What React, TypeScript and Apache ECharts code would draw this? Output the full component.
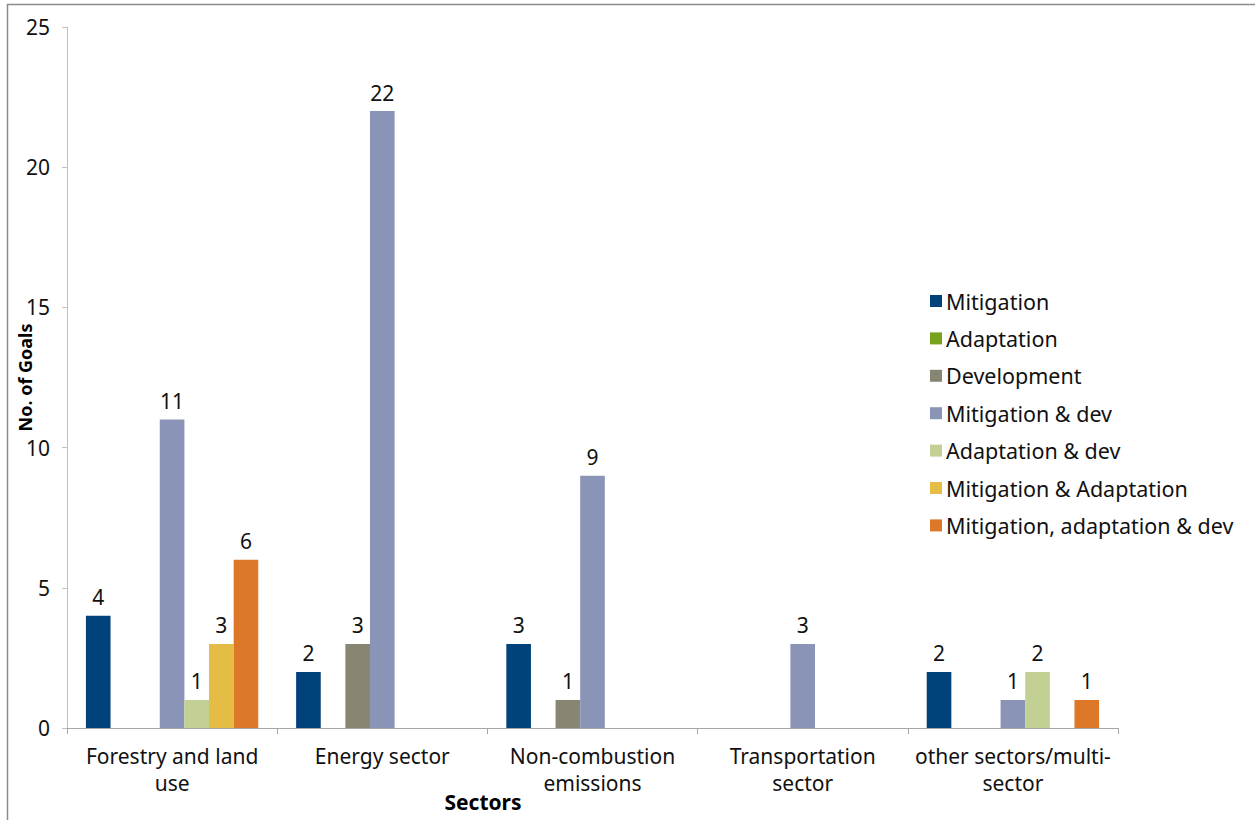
import React, { useEffect, useRef } from "react";
import * as echarts from "echarts";

const categories = [
  "Forestry and land\nuse",
  "Energy sector",
  "Non-combustion\nemissions",
  "Transportation\nsector",
  "other sectors/multi-\nsector",
];
const seriesNames = [
  "Mitigation",
  "Adaptation",
  "Development",
  "Mitigation & dev",
  "Adaptation & dev",
  "Mitigation & Adaptation",
  "Mitigation, adaptation & dev",
];
const mitigation = [4, 2, 3, 0, 2];
const adaptation = [0, 0, 0, 0, 0];
const development = [0, 3, 1, 0, 0];
const mitigationDev = [11, 22, 9, 3, 1];
const adaptationDev = [1, 0, 0, 0, 2];
const mitigationAdaptation = [3, 0, 0, 0, 0];
const mitigationAdaptationDev = [6, 0, 0, 0, 1];
const seriesValues = [
  mitigation,
  adaptation,
  development,
  mitigationDev,
  adaptationDev,
  mitigationAdaptation,
  mitigationAdaptationDev,
];
const colors = ["#00427a", "#77a31c", "#888672", "#8a94b7", "#c2d093", "#e5bc46", "#dc7828"];
const yTicks = [0, 5, 10, 15, 20, 25];

const FONT = "'Noto Sans', sans-serif";

export default function App() {
  const ref = useRef<HTMLDivElement>(null);
  useEffect(() => {
    if (!ref.current) return;
    const chart = echarts.init(ref.current, undefined, { renderer: "svg" });
    chart.setOption({
      animation: false,
      color: colors,
      textStyle: { fontFamily: FONT },
      grid: { left: 67, right: 137, top: 27, bottom: 92, containLabel: false, outerBoundsMode: "none" },
      legend: {
        orient: "vertical",
        left: 925,
        top: 285,
        itemWidth: 12,
        itemHeight: 12,
        itemGap: 15.4,
        icon: "rect",
        textStyle: { fontSize: 21.5, color: "#111", fontFamily: FONT, padding: [0, 0, 0, -1] },
        data: seriesNames,
      },
      xAxis: {
        type: "category",
        data: categories,
        axisLine: { lineStyle: { color: "#a6a6a6", width: 1 } },
        axisTick: { show: true, length: 6, lineStyle: { color: "#a6a6a6" } },
        axisLabel: {
          fontSize: 21,
          color: "#111",
          lineHeight: 27,
          margin: 14,
          interval: 0,
        },
      },
      yAxis: {
        type: "value",
        min: 0,
        max: 25,
        interval: 5,
        name: "No. of Goals",
        nameLocation: "middle",
        nameGap: 33,
        nameMoveOverlap: false,
        nameTextStyle: { fontSize: 18, fontWeight: "bold", color: "#000" },
        axisLine: { show: true, lineStyle: { color: "#c0c0c0", width: 1 } },
        axisTick: { show: true, length: 5, lineStyle: { color: "#c0c0c0" } },
        splitLine: { show: false },
        axisLabel: {
          fontSize: 21,
          color: "#111",
          margin: 17,
          formatter: (v: number) => (yTicks.includes(v) ? String(v) : ""),
        },
      },
      series: seriesNames.map((name, i) => ({
        name,
        type: "bar",
        data: seriesValues[i],
        barGap: "0%",
        barCategoryGap: "18%",
        itemStyle: { color: colors[i] },
        label: {
          show: true,
          position: "top",
          distance: 8,
          fontSize: 21,
          color: "#111",
          formatter: (p: any) => (p.value ? String(p.value) : ""),
        },
      })),
      graphic: [
        {
          type: "rect",
          shape: { x: 7.5, y: 4.5, width: 1400, height: 1000 },
          style: { fill: "none", stroke: "#8c8c8c", lineWidth: 1.5 },
          silent: true,
        },
        {
          type: "text",
          x: 483,
          y: 802,
          style: {
            text: "Sectors",
            fill: "#000",
            font: `bold 21px ${FONT}`,
            textAlign: "center",
            textVerticalAlign: "middle",
          },
        },
      ],
    });
    return () => chart.dispose();
  }, []);
  return (
    <div
      ref={ref}
      style={{ position: "absolute", left: 0, top: 0, width: 1255, height: 820, background: "#fff" }}
    />
  );
}
